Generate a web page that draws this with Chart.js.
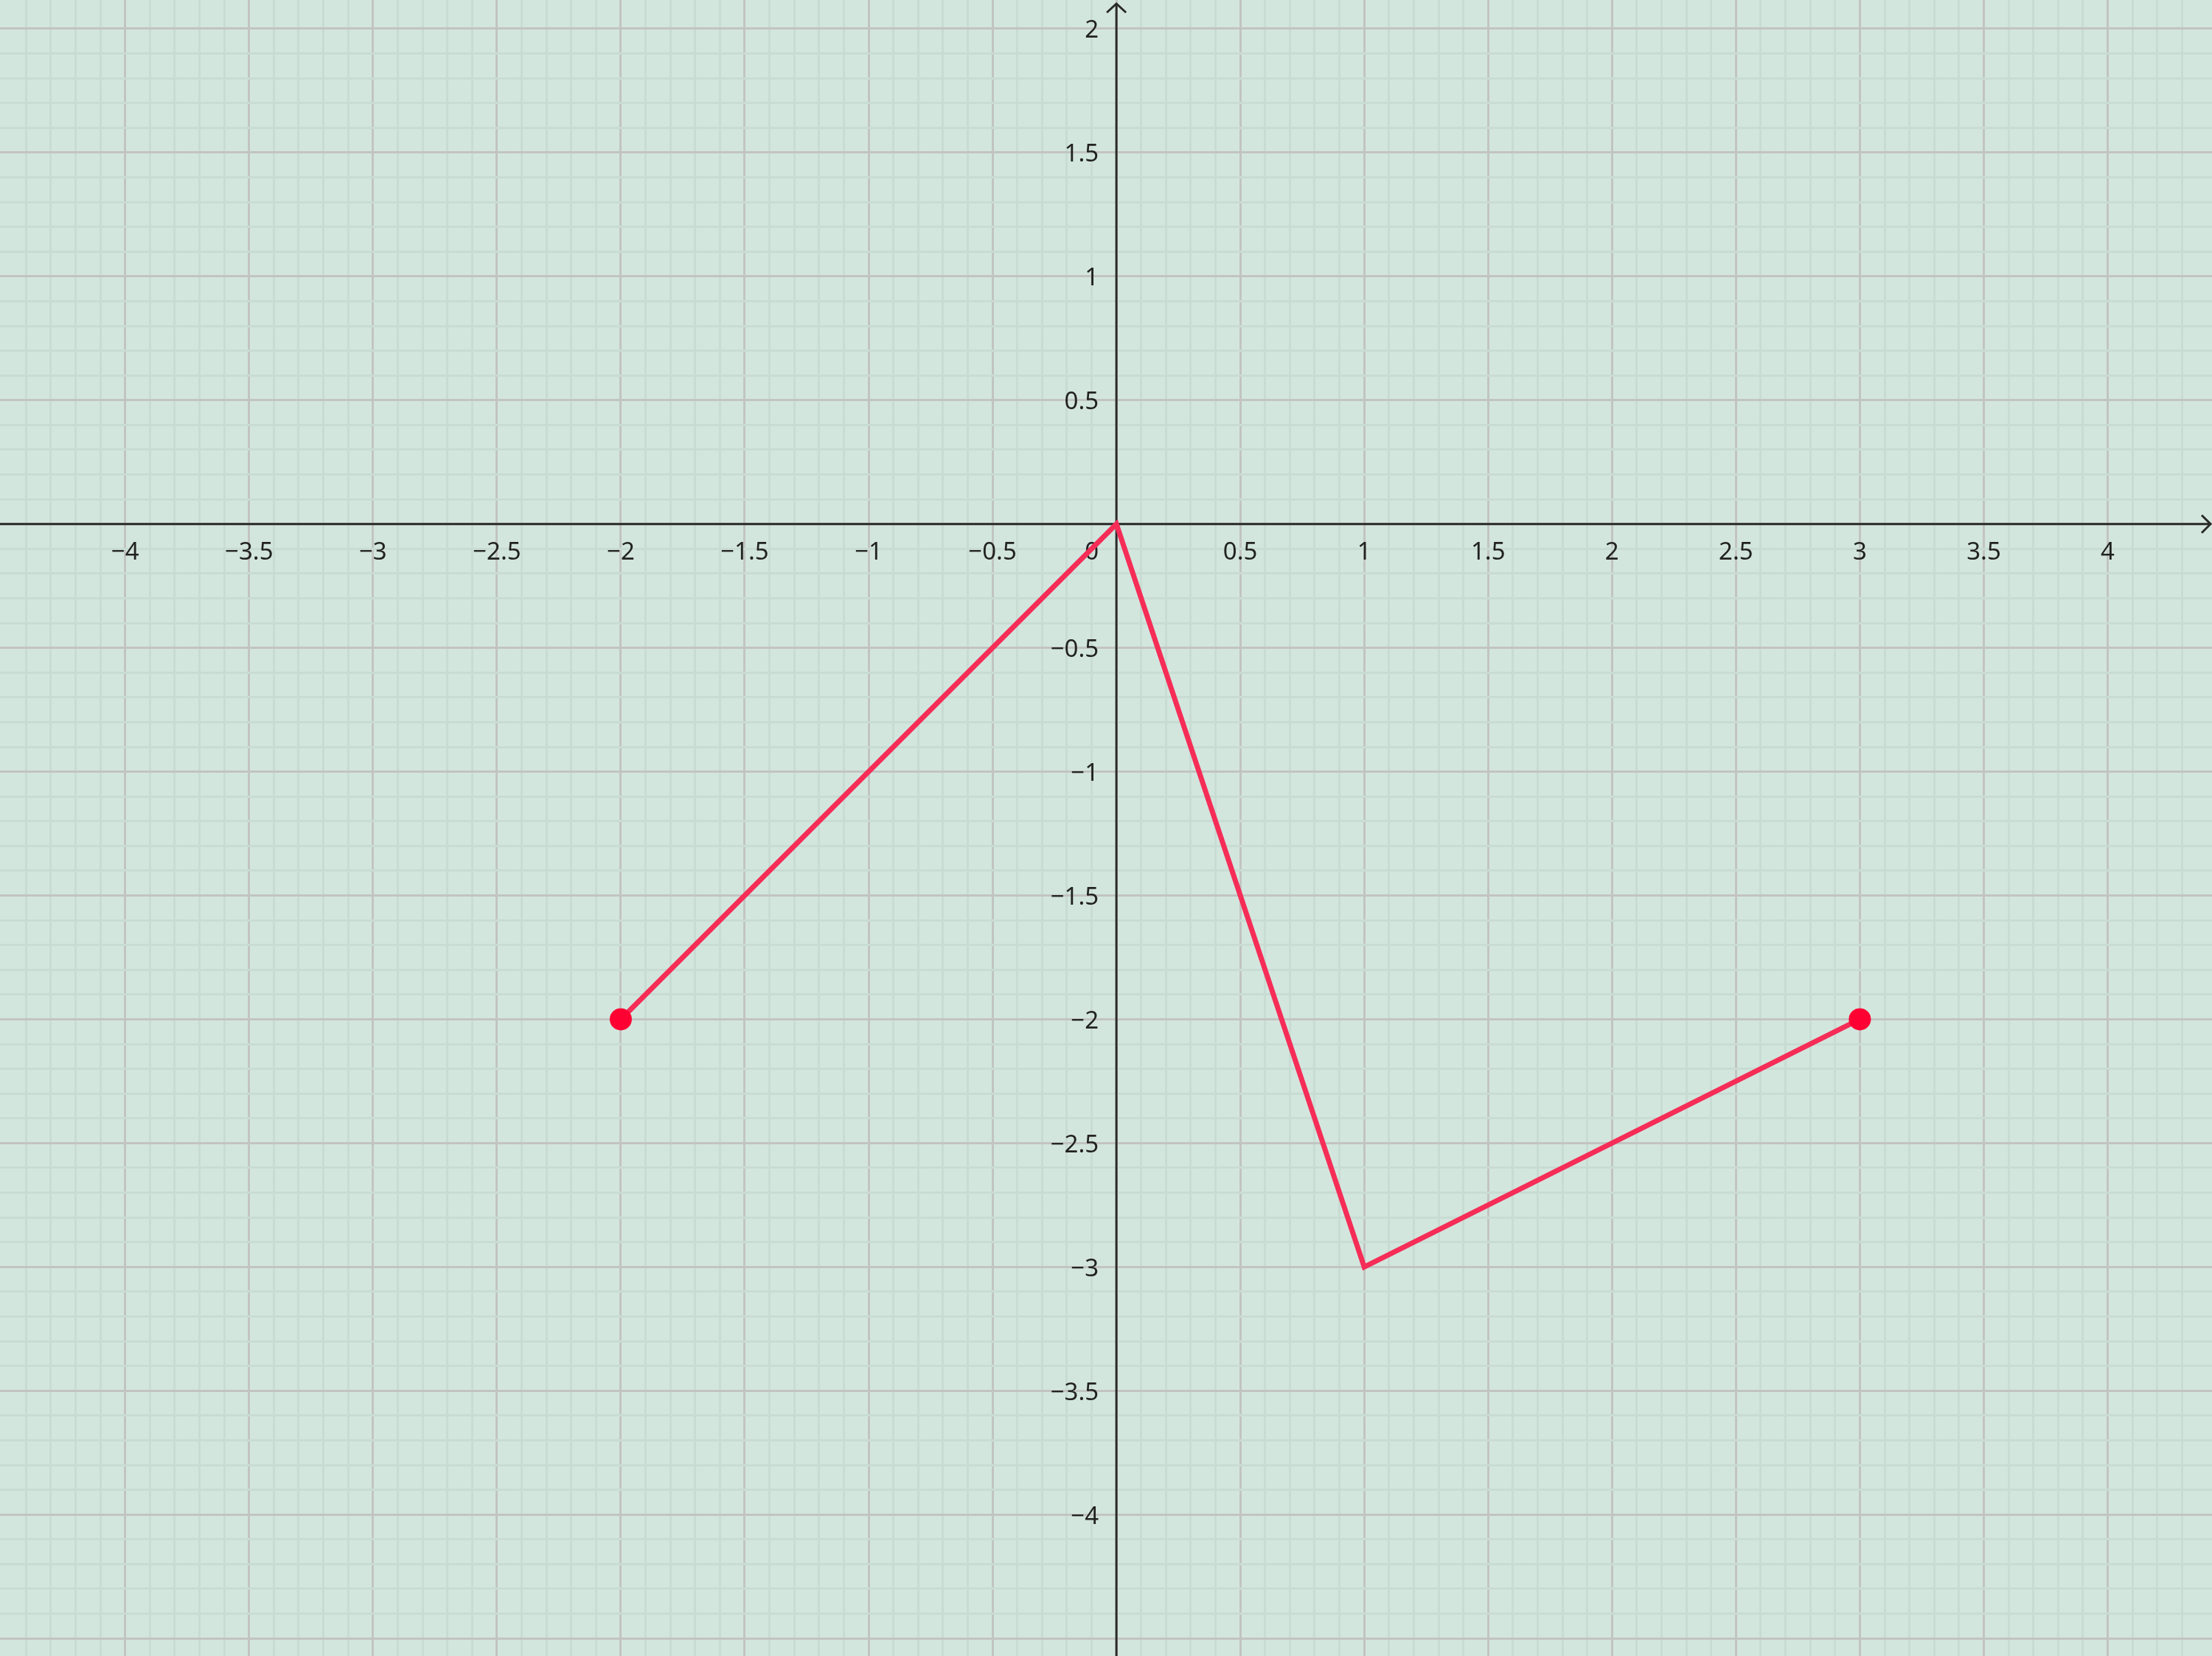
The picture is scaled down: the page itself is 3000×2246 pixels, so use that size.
<!DOCTYPE html>
<html>
<head>
<meta charset="utf-8">
<script src="https://cdn.jsdelivr.net/npm/chart.js@4/dist/chart.umd.min.js"></script>
<style>
    html, body { margin: 0; padding: 0; background: #d3e6de; }
    #wrap { width: 3000px; height: 2246px; }
</style>
</head>
<body>
<div id="wrap"><canvas id="myChart" width="3000" height="2246"></canvas></div>
<script>
// the polyline
const x_values = [-2, 0, 1, 3];
const y_values = [-2, 0, -3, -2];
// only the two ends get a dot
const point_sizes = [15, 0, 0, 15];

// visible window
const x_range = [-4.505, 4.421];
const y_range = [-4.571, 2.116];

// tick labels
const x_ticks = [-4, -3.5, -3, -2.5, -2, -1.5, -1, -0.5, 0.5, 1, 1.5, 2, 2.5, 3, 3.5, 4];
const y_ticks = [2, 1.5, 1, 0.5, -0.5, -1, -1.5, -2, -2.5, -3, -3.5, -4];

const ctx = document.getElementById('myChart').getContext('2d');

const font = '33px "Noto Sans"';
const axis_color = '#2a2a2a';

function fmt(v) {
    return v < 0 ? '\u2212' + String(-v) : String(v);
}

// majors every 0.5, minors every 0.1
function gridColor(c) {
    const v = c.tick.value;
    if (Math.abs(v * 10 - Math.round(v * 10)) > 1e-6) return 'rgba(0,0,0,0)';
    if (Math.abs(v * 2 - Math.round(v * 2)) < 1e-6) return '#c2c4c1';
    return '#c9dcd3';
}

const axesPlugin = {
    id: 'axes',
    beforeDatasetsDraw(chart) {
        const c = chart.ctx;
        const xs = chart.scales.x;
        const ys = chart.scales.y;
        const area = chart.chartArea;
        const ox = xs.getPixelForValue(0);
        const oy = ys.getPixelForValue(0);

        c.save();
        c.strokeStyle = axis_color;
        c.lineWidth = 3;
        c.beginPath();
        c.moveTo(area.left, oy);
        c.lineTo(area.right - 2, oy);
        c.moveTo(ox, area.bottom);
        c.lineTo(ox, area.top + 5);
        c.stroke();

        // arrow heads
        c.beginPath();
        c.moveTo(area.right - 14, oy - 12);
        c.lineTo(area.right - 2, oy);
        c.lineTo(area.right - 14, oy + 12);
        c.moveTo(ox - 13, area.top + 17);
        c.lineTo(ox, area.top + 5);
        c.lineTo(ox + 13, area.top + 17);
        c.stroke();

        c.fillStyle = '#222';
        c.font = font;
        c.textBaseline = 'middle';
        c.textAlign = 'center';
        x_ticks.forEach(v => {
            c.fillText(fmt(v), xs.getPixelForValue(v), oy + 39);
        });
        c.textAlign = 'right';
        y_ticks.forEach(v => {
            c.fillText(fmt(v), ox - 24, ys.getPixelForValue(v) + 3);
        });
        c.fillText('0', ox - 24, oy + 39);
        c.restore();
    }
};

const chart = new Chart(ctx, {
    type: 'scatter',
    data: {
        datasets: [{
            data: x_values.map((x, i) => ({ x: x, y: y_values[i] })),
            showLine: true,
            borderColor: '#f52d57',
            borderWidth: 7,
            pointRadius: point_sizes,
            pointBackgroundColor: '#ff0033',
            pointBorderWidth: 0,
            tension: 0
        }]
    },
    options: {
        responsive: false,
        animation: false,
        devicePixelRatio: 1,
        layout: { padding: 0, autoPadding: false },
        plugins: {
            legend: { display: false },
            tooltip: { enabled: false }
        },
        scales: {
            x: {
                type: 'linear',
                min: x_range[0],
                max: x_range[1],
                ticks: { display: false, stepSize: 0.1 },
                grid: { color: gridColor, lineWidth: 3, drawTicks: false },
                border: { display: false }
            },
            y: {
                type: 'linear',
                min: y_range[0],
                max: y_range[1],
                ticks: { display: false, stepSize: 0.1 },
                grid: { color: gridColor, lineWidth: 3, drawTicks: false },
                border: { display: false }
            }
        }
    },
    plugins: [axesPlugin]
});
</script>
</body>
</html>
